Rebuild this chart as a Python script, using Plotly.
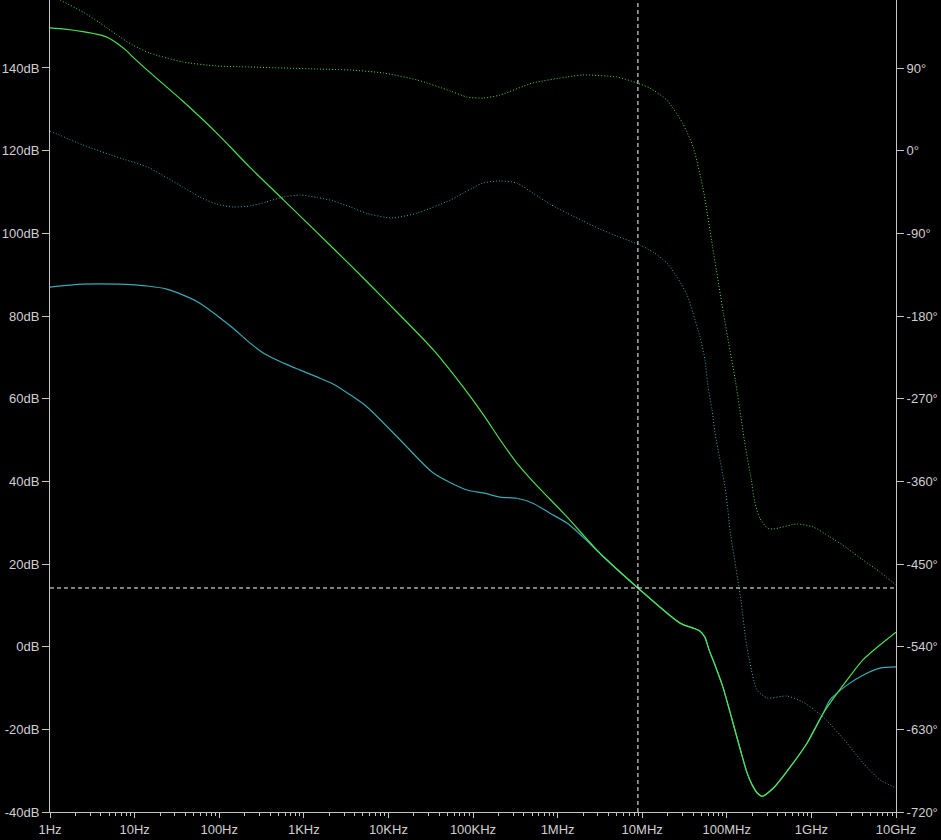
import plotly.graph_objects as go

# ---- data (frequency in Hz, magnitude in dB, phase in degrees)
mag_a_freq = [1, 1.5, 2.45, 3.9, 5.0, 6.2, 8.0, 9.5, 15, 37, 93, 230, 575, 1450, 3550, 9100,
              34e3, 76e3, 138e3, 210e3, 330e3, 510e3, 1.29e6, 3.16e6, 8.9e6, 28e6, 40e6,
              48e6, 55e6, 62e6, 69e6, 90e6, 110e6, 145e6, 174e6, 200e6, 229e6, 263e6, 355e6,
              562e6, 891e6, 1.38e9, 2.63e9, 4.07e9, 6.46e9, 10e9]
mag_a_db = [149.7, 149.4, 148.8, 148.0, 147.2, 146.0, 144.2, 142.7, 139.0, 132.0, 124.3,
            116.0, 108.1, 100.1, 92.3, 83.9, 71.8, 62.9, 55.6, 50.0, 44.4, 40.0, 31.4, 22.6,
            14.2, 5.7, 4.5, 3.8, 2.3, -0.9, -3.3, -9.8, -16.1, -25.0, -30.6, -33.5, -35.4,
            -36.2, -34.2, -29.1, -23.3, -16.1, -8.1, -3.2, 0.4, 3.5]

mag_b_freq = [1, 2.45, 6.2, 15, 24, 37, 59, 93, 145, 230, 360, 575, 910, 1450, 2250, 3550,
              5600, 13.8e3, 34e3, 85e3, 132e3, 210e3, 330e3, 510e3, 810e3, 1.29e6, 2.0e6,
              3.16e6, 8.9e6, 28e6, 40e6, 48e6, 55e6, 62e6, 69e6, 90e6, 110e6, 145e6, 174e6,
              200e6, 229e6, 263e6, 355e6, 562e6, 891e6, 1.38e9, 1.66e9, 2.63e9, 4.07e9,
              6.46e9, 10e9]
mag_b_db = [87.0, 87.7, 87.7, 87.2, 86.5, 85.1, 83.1, 80.2, 77.1, 73.5, 70.6, 68.6, 66.9,
            65.2, 63.5, 60.9, 58.0, 50.0, 42.0, 37.9, 37.2, 36.2, 35.9, 34.7, 32.3, 29.9,
            26.5, 22.6, 14.2, 5.7, 4.5, 3.8, 2.3, -0.9, -3.3, -9.8, -16.1, -25.0, -30.6,
            -33.5, -35.4, -36.2, -34.2, -29.1, -23.3, -16.1, -12.9, -9.3, -6.9, -5.2, -4.9]

ph_a_freq = [1, 1.32, 2.45, 3.9, 6.2, 9.5, 15, 24, 37, 93, 230, 575, 1450, 3550, 8700,
             22e3, 54e3, 85e3, 132e3, 210e3, 510e3, 1.29e6, 2.0e6, 5.0e6, 8.7e6, 12.3e6,
             19.5e6, 30e6, 40e6, 52e6, 68e6, 91e6, 126e6, 166e6, 195e6, 214e6, 245e6,
             302e6, 355e6, 676e6, 1.05e9, 1.66e9, 2.63e9, 4.07e9, 6.46e9, 10e9]
ph_a_deg = [170.6, 164.0, 151.0, 139.0, 125.9, 115.0, 106.3, 100.9, 96.5, 92.2, 91.1, 90.0,
            88.9, 87.8, 84.6, 76.9, 65.0, 58.4, 57.3, 60.6, 73.7, 80.2, 82.4, 80.2, 73.7,
            68.2, 55.2, 30.1, 4.0, -39.6, -104.9, -176.7, -249.7, -322.6, -358.6, -382.5,
            -399.9, -410.8, -411.9, -406.4, -409.7, -420.6, -432.6, -445.6, -458.7, -472.9]

ph_b_freq = [1, 2.45, 6.2, 15, 37, 59, 93, 145, 230, 360, 575, 910, 1450, 2250, 3550, 5600,
             11e3, 22e3, 54e3, 132e3, 210e3, 330e3, 510e3, 810e3, 1.29e6, 2.0e6, 3.16e6,
             5.0e6, 9.4e6, 13.4e6, 19.6e6, 25.8e6, 33.9e6, 39.8e6, 48.2e6, 55.2e6, 60e6,
             66.9e6, 72.6e6, 83.2e6, 95.3e6, 103e6, 109e6, 145e6, 173e6, 228e6, 302e6,
             513e6, 794e6, 1.38e9, 2.63e9, 4.07e9, 6.46e9, 10e9]
ph_b_deg = [21.4, 6.2, -6.9, -18.9, -39.6, -50.4, -58.1, -61.3, -60.2, -55.9, -50.4, -48.3,
            -51.0, -54.8, -61.3, -68.4, -73.3, -67.9, -53.7, -35.2, -33.0, -35.2, -46.1,
            -58.1, -67.9, -76.6, -85.3, -92.9, -102.7, -110.3, -122.3, -137.5, -157.1,
            -176.7, -202.9, -227.9, -257.3, -282.3, -307.4, -336.8, -366.2, -391.2, -413.0,
            -485.9, -540.4, -587.2, -595.9, -593.7, -600.2, -616.6, -644.9, -666.6, -685.1,
            -693.9]

cursor_freq = 8.9e6
cursor_db = 14.2

x_tickvals = [1, 10, 100, 1e3, 1e4, 1e5, 1e6, 1e7, 1e8, 1e9, 1e10]
x_ticktext = ["1Hz", "10Hz", "100Hz", "1KHz", "10KHz", "100KHz", "1MHz", "10MHz",
              "100MHz", "1GHz", "10GHz"]
db_ticks = [-40, -20, 0, 20, 40, 60, 80, 100, 120, 140]
db_text = [f"{v}dB" for v in db_ticks]
deg_ticks = [-720, -630, -540, -450, -360, -270, -180, -90, 0, 90]
deg_text = [f"{v}°" for v in deg_ticks]

# ---- styling
GREEN = "#4fe04f"
TEAL = "#3aa9b6"
AXIS = "#c4c4c4"
LABEL = "#cfcfcf"
FONT = dict(family="Liberation Sans, Arial, sans-serif", size=13, color=LABEL)

fig = go.Figure()
fig.add_trace(go.Scatter(x=ph_a_freq, y=ph_a_deg, yaxis="y2", mode="lines",
                         line=dict(color=GREEN, width=1, dash="1px,2px", shape="spline",
                                   smoothing=0.6)))
fig.add_trace(go.Scatter(x=ph_b_freq, y=ph_b_deg, yaxis="y2", mode="lines",
                         line=dict(color=TEAL, width=1, dash="1px,2px", shape="spline",
                                   smoothing=0.6)))
fig.add_trace(go.Scatter(x=mag_b_freq, y=mag_b_db, mode="lines",
                         line=dict(color=TEAL, width=1.2, shape="spline", smoothing=0.7)))
fig.add_trace(go.Scatter(x=mag_a_freq, y=mag_a_db, mode="lines",
                         line=dict(color=GREEN, width=1.2, shape="spline", smoothing=0.7)))

minor_vals = [m * 10 ** k for k in range(0, 10) for m in range(2, 10)]

fig.update_layout(
    width=941, height=840,
    margin=dict(l=50, r=45, t=0, b=28, autoexpand=False),
    paper_bgcolor="black", plot_bgcolor="black",
    showlegend=False,
    font=FONT,
    xaxis=dict(type="log", range=[0, 10], tickvals=x_tickvals, ticktext=x_ticktext,
               showgrid=False, zeroline=False, showline=True, linecolor=AXIS, linewidth=1,
               ticks="outside", ticklen=5, tickcolor=AXIS, automargin=False,
               minor=dict(tickvals=minor_vals, ticks="outside", ticklen=3, tickcolor=AXIS,
                          showgrid=False)),
    yaxis=dict(range=[-40, 156.45], tickvals=db_ticks, ticktext=db_text,
               showgrid=False, zeroline=False, showline=True, linecolor=AXIS, linewidth=1,
               ticks="outside", ticklen=7, tickcolor=AXIS, automargin=False),
    yaxis2=dict(range=[-720, 164.03], tickvals=deg_ticks, ticktext=deg_text, overlaying="y",
                side="right", showgrid=False, zeroline=False, showline=True, linecolor=AXIS,
                linewidth=1, ticks="outside", ticklen=7, tickcolor=AXIS, automargin=False),
    shapes=[
        dict(type="line", xref="x", yref="paper", x0=cursor_freq, x1=cursor_freq, y0=0, y1=1,
             line=dict(color="white", width=1, dash="4px,3px")),
        dict(type="line", xref="paper", yref="y", x0=0, x1=1, y0=cursor_db, y1=cursor_db,
             line=dict(color="white", width=1, dash="4px,3px")),
    ],
)

fig.write_html("out.html", config={"displayModeBar": False},
               post_script="document.body.style.margin='0';")
